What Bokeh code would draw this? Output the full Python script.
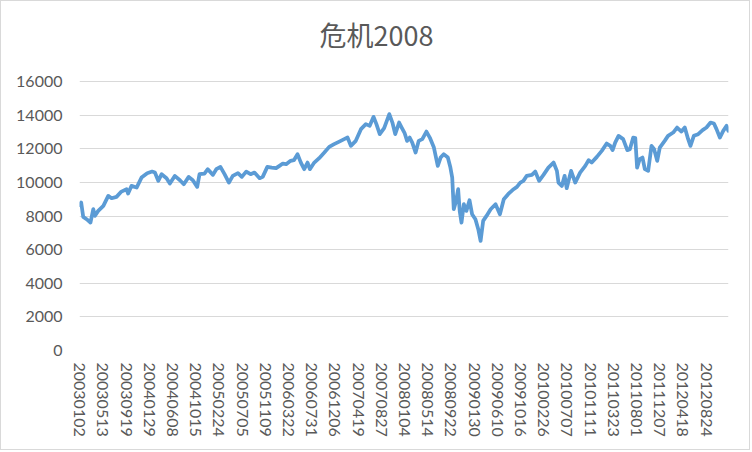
from bokeh.plotting import figure
from bokeh.models import Range1d, FixedTicker, ColumnDataSource, Label
from bokeh.embed import file_html
from bokeh.resources import INLINE

title_text = "危机2008"

# trading-day index (from 2003-01-02) and index value
day = [0, 6, 14, 27, 42, 53, 59, 72, 92, 111, 124, 143, 162, 182, 188, 201, 221, 240,
       262, 281, 292, 305, 318, 337, 350, 369, 389, 404, 423, 439, 456, 465, 484, 497,
       517, 530, 546, 562, 579, 594, 614, 629, 646, 663, 678, 698, 710, 728, 745, 762,
       775, 788, 801, 818, 831, 845, 858, 871, 884, 893, 910, 929, 949, 968, 987, 1007,
       1026, 1039, 1052, 1071, 1091, 1110, 1125, 1140, 1151, 1164, 1181, 1201, 1213,
       1224, 1239, 1249, 1260, 1270, 1280, 1290, 1303, 1315, 1329, 1345, 1358, 1374,
       1389, 1400, 1412, 1428, 1438, 1445, 1451, 1460, 1468, 1474, 1481, 1490, 1500,
       1512, 1522, 1535, 1546, 1555, 1565, 1578, 1594, 1613, 1630, 1645, 1665, 1683,
       1696, 1709, 1721, 1734, 1754, 1767, 1782, 1799, 1818, 1838, 1851, 1857, 1870,
       1881, 1889, 1906, 1922, 1941, 1961, 1974, 1986, 2006, 2025, 2044, 2058, 2067,
       2077, 2090, 2108, 2124, 2134, 2147, 2155, 2162, 2172, 2183, 2192, 2205, 2218,
       2228, 2240, 2250, 2269, 2282, 2302, 2317, 2334, 2347, 2360, 2369, 2382, 2399,
       2416, 2431, 2447, 2460, 2470, 2483, 2496, 2509, 2516]
dow = [8650, 8800, 7946, 7809, 7607, 8404, 8006, 8303, 8601, 9196, 9059, 9137, 9452, 9594,
       9333, 9791, 9690, 10285, 10547, 10642, 10583, 10089, 10487, 10250, 9928, 10386,
       10130, 9892, 10327, 10130, 9731, 10487, 10523, 10785, 10446, 10785, 10922, 10487,
       9988, 10386, 10547, 10327, 10642, 10487, 10583, 10250, 10327, 10922, 10880, 10845,
       10982, 11119, 11083, 11279, 11321, 11678, 11178, 10785, 11178, 10785, 11178, 11440,
       11773, 12112, 12273, 12428, 12571, 12666, 12172, 12469, 13166, 13463, 13362, 13898,
       13463, 12868, 13225, 14059, 13559, 12868, 13559, 13261, 12950, 12469, 12666, 12368,
       11773, 12469, 12571, 13023, 12666, 12071, 10982, 11476, 11678, 11476, 10880, 10285,
       8404, 8898, 9594, 8303, 7607, 8702, 8303, 8940, 8107, 7809, 7214, 6518, 7708, 8006,
       8404, 8702, 8107, 9000, 9350, 9594, 9731, 9988, 10089, 10386, 10446, 10642, 10089,
       10446, 10880, 11178, 10684, 9988, 9791, 10386, 9654, 10684, 9988, 10583, 10982,
       11321, 11178, 11517, 11874, 12309, 12172, 11916, 12368, 12767, 12571, 11916, 11975,
       12666, 12630, 10880, 11380, 11476, 10785, 10684, 12172, 11975, 11279, 12071, 12469,
       12767, 12964, 13261, 13023, 13261, 12571, 12172, 12767, 12868, 13106, 13261, 13559,
       13500, 13166, 12666, 13065, 13362, 13065]

tick_labels = ["20030102", "20030513", "20030919", "20040129", "20040608", "20041015",
               "20050224", "20050705", "20051109", "20060322", "20060731", "20061206",
               "20070419", "20070827", "20080104", "20080514", "20080922", "20090130",
               "20090610", "20091016", "20100226", "20100707", "20101111", "20110323",
               "20110801", "20111207", "20120418", "20120824"]
label_every = 90          # trading days between category labels
n_days = 2517
y_ticks = [0, 2000, 4000, 6000, 8000, 10000, 12000, 14000, 16000]
y_max = 16000

tick_days = [i * label_every for i in range(len(tick_labels))]

# layout (pixels): frame spans the full height above the x labels; the value axis
# top (16000) sits 80 px below the frame top, leaving room for the title.
frame_h = 349
top_gap = 80
y_end = y_max * frame_h / (frame_h - top_gap)

p = figure(width=750, height=450, output_backend="svg", toolbar_location=None,
           x_range=Range1d(-0.5, n_days - 0.5), y_range=Range1d(0, y_end),
           min_border_left=78, min_border_right=23, min_border_top=0, min_border_bottom=101)
p.outline_line_color = None
p.background_fill_color = "white"
p.border_fill_color = "white"
p.styles = {"border": "1px solid #D9D9D9"}

src = ColumnDataSource(dict(day=day, dow=dow))
p.line("day", "dow", source=src, line_color="#5B9BD5", line_width=3.75,
       line_join="round", line_cap="round")

p.add_layout(Label(x=297, y=frame_h - 33, x_units="screen", y_units="screen",
                   text=title_text, text_align="center", text_baseline="middle",
                   text_font="Noto Sans CJK SC", text_font_size="27px",
                   text_color="#595959"))

font = "Lato"
p.xaxis.ticker = FixedTicker(ticks=tick_days)
p.xaxis.major_label_overrides = {d: t for d, t in zip(tick_days, tick_labels)}
p.xaxis.major_label_orientation = "vertical"
p.xaxis.major_label_standoff = 12
p.yaxis.ticker = FixedTicker(ticks=y_ticks)
p.yaxis.major_label_standoff = 17

for ax in (p.xaxis, p.yaxis):
    ax.axis_line_color = None
    ax.major_tick_line_color = None
    ax.minor_tick_line_color = None
    ax.major_tick_out = 0
    ax.major_tick_in = 0
    ax.major_label_text_color = "#595959"
    ax.major_label_text_font = font
    ax.major_label_text_font_size = "16px"

p.xgrid.visible = False
p.ygrid.grid_line_color = "#D9D9D9"
p.ygrid.grid_line_width = 1

open("out.html", "w").write(file_html(p, INLINE))
